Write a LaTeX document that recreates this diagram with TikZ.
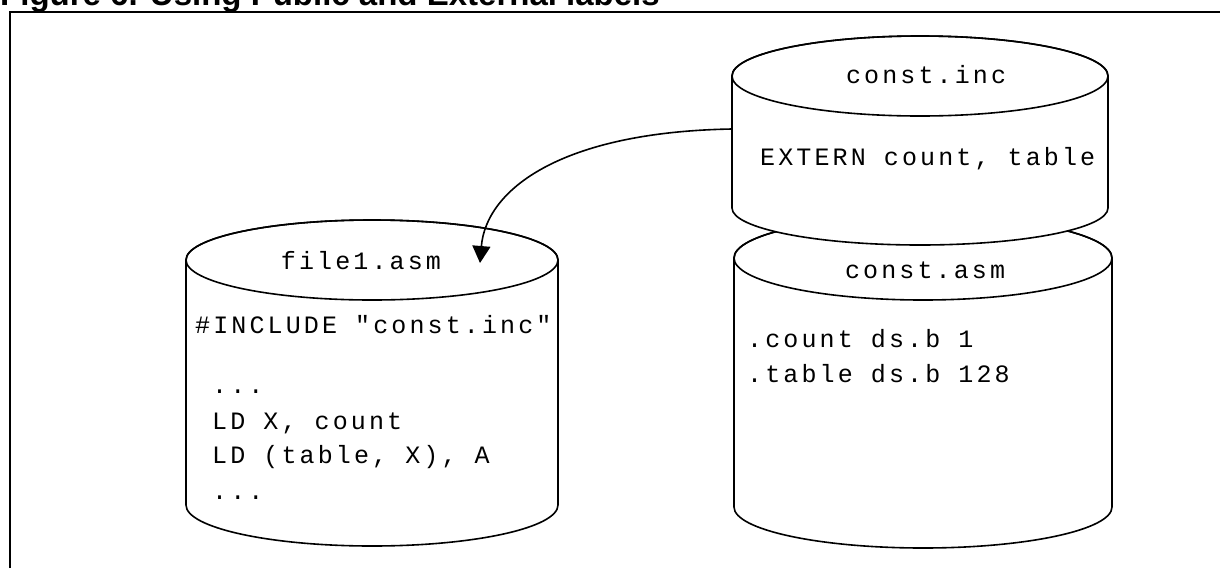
\documentclass[tikz,border=0pt]{standalone}
\usepackage{fontspec}
\newfontfamily\codefont{Liberation Mono}[LetterSpace=12.5]
\newfontfamily\titlefont{Liberation Sans}
\usetikzlibrary{arrows.meta}

\begin{document}
\begin{tikzpicture}[x=1pt, y=1pt,
    cil/.style={line width=1.6pt, fill=white},
    borda/.style={line width=1.6pt},
    codigo/.style={font=\codefont\fontsize{25}{30}\selectfont, inner sep=0pt}]
    \useasboundingbox (0,0) rectangle (1220,-568);

    % Titulo e moldura
    \node[anchor=base west, inner sep=0pt, font=\titlefont\bfseries\fontsize{33}{40}\selectfont] (titulo) at (0,-5.5) {Figure 6. Using Public and External labels};
    \draw[line width=2pt] (10,-568) -- (10,-12) -- (1220,-12);

    % Arquivo const.asm
    \begin{scope}[shift={(923,0)}]
        \draw[cil] (-189,-258) -- (-189,-507) arc[start angle=180, end angle=360, x radius=189, y radius=41]
            -- (189,-258) arc[start angle=0, end angle=180, x radius=189, y radius=42] -- cycle;
        \draw[borda] (0,-258) ellipse [x radius=189, y radius=42];
        \node[codigo, anchor=base] (arqasm) at (2,-278) {const.asm};
        \node[codigo, anchor=base west] (cnt) at (-176,-347) {.count ds.b 1};
        \node[codigo, anchor=base west] (tab) at (-176,-382) {.table ds.b 128};
    \end{scope}

    % Arquivo const.inc (por cima)
    \begin{scope}[shift={(920,0)}]
        \draw[cil] (-188,-76) -- (-188,-208) arc[start angle=180, end angle=360, x radius=188, y radius=37]
            -- (188,-76) arc[start angle=0, end angle=180, x radius=188, y radius=40] -- cycle;
        \draw[borda] (0,-76) ellipse [x radius=188, y radius=40];
        \node[codigo, anchor=base] (arqinc) at (6,-83) {const.inc};
        \node[codigo, anchor=base west] (ext) at (-160,-165) {EXTERN count, table};
    \end{scope}

    % Arquivo file1.asm
    \begin{scope}[shift={(372,0)}]
        \draw[cil] (-186,-260) -- (-186,-505) arc[start angle=180, end angle=360, x radius=186, y radius=41]
            -- (186,-260) arc[start angle=0, end angle=180, x radius=186, y radius=40] -- cycle;
        \draw[borda] (0,-260) ellipse [x radius=186, y radius=40];
        \node[codigo, anchor=base] (arq1) at (-11,-269) {file1.asm};
        \node[codigo, anchor=base west] (inc) at (-177,-333) {\#INCLUDE "const.inc"};
        \node[codigo, anchor=base west] (l1) at (-160,-393) {...};
        \node[codigo, anchor=base west] (l2) at (-160,-429) {LD X, count};
        \node[codigo, anchor=base west] (l3) at (-160,-463) {LD (table, X), A};
        \node[codigo, anchor=base west] (l4) at (-160,-499) {...};
    \end{scope}

    % Seta do include
    \coordinate (saida) at (732,-129);
    \coordinate (chegada) at (480,-263);
    \draw[borda, -{Triangle[length=17pt, width=18pt]}] (saida) .. controls (560,-132) and (486,-190) .. (chegada);
\end{tikzpicture}
\end{document}
